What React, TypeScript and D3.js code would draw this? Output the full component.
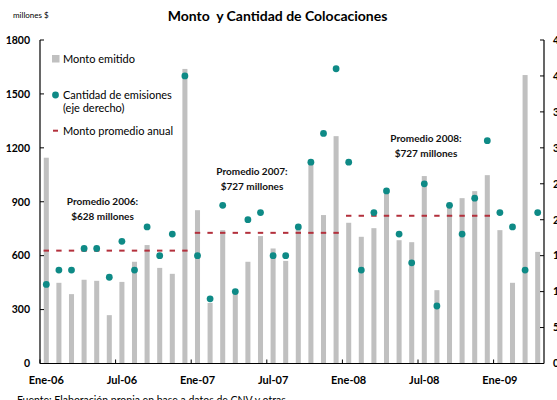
import React from "react";
import * as d3 from "d3";

const montos = [1145, 449, 386, 466, 460, 269, 454, 566, 659, 532, 499, 1639, 853, 337, 742, 390, 566, 709, 640, 571, 745, 1113, 826, 1265, 783, 705, 753, 946, 686, 675, 1043, 408, 880, 920, 959, 1048, 742, 449, 1605, 621];
const cantidades = [11, 13, 13, 16, 16, 12, 17, 13, 19, 15, 18, 40, 15, 9, 22, 10, 20, 21, 15, 15, 19, 28, 32, 41, 28, 13, 21, 24, 18, 14, 25, 8, 22, 18, 23, 31, 21, 19, 13, 21];
const promedios = [
  { start: 0, end: 11, value: 628 },
  { start: 12, end: 23, value: 727 },
  { start: 24, end: 35, value: 822 },
];
const xTickIdx = [0, 6, 12, 18, 24, 30, 36];
const xTickLabels = ["Ene-06", "Jul-06", "Ene-07", "Jul-07", "Ene-08", "Jul-08", "Ene-09"];
const leftTicks = [0, 300, 600, 900, 1200, 1500, 1800];
const rightTicks = [0, 5, 10, 15, 20, 25, 30, 35, 40, 45];
const annotations = [
  { cx: 102.5, y: 205, lines: ["Promedio 2006:", "$628 millones"] },
  { cx: 252, y: 175, lines: ["Promedio 2007:", "$727 millones"] },
  { cx: 426, y: 142, lines: ["Promedio 2008:", "$727 millones"] },
];

const W = 557;
const H = 400;
const left = 40;
const right = 544;
const top = 40;
const bottom = 363.5;
const FONT = "Lato, 'Open Sans', sans-serif";
const BAR = "#c0c0c0";
const TEAL = "#0e8a86";
const RED = "#b3303c";

export default function App() {
  const idx = montos.map((_, i) => i);
  const pad = 0.6;
  const x = d3.scaleBand<number>().domain(idx).range([left, right]).paddingInner(pad).paddingOuter(pad / 2);
  const bw = x.bandwidth();
  const step = x.step();
  const cx = (i: number) => (x(i) as number) + bw / 2;
  const boundary = (i: number) => (x(i) as number) - (step - bw) / 2;
  const yL = d3.scaleLinear().domain([0, 1800]).range([bottom, top]);
  const yR = d3.scaleLinear().domain([0, 45]).range([bottom, top]);

  return (
    <svg width={W} height={H} style={{ position: "absolute", left: 0, top: 0, background: "#fff" }} fontFamily={FONT}>
      <rect x={0} y={0} width={W} height={H} fill="#fff" />
      {/* title */}
      <text x={277.5} y={21} textAnchor="middle" fontSize={14} fontWeight="bold" fill="#000" style={{ whiteSpace: "pre" }}>
        {"Monto  y Cantidad de Colocaciones"}
      </text>
      <text x={13} y={17.5} fontSize={8} fill="#000">millones $</text>

      {/* bars */}
      {montos.map((v, i) => (
        <rect key={"b" + i} x={x(i)} y={yL(v)} width={bw} height={bottom - yL(v)} fill={BAR} />
      ))}

      {/* average lines */}
      {promedios.map((p, k) =>
        idx.filter((i) => i >= p.start && i <= p.end).map((i) => (
          <line key={"p" + k + "-" + i} x1={cx(i) - 2.7} x2={cx(i) + 2.7} y1={yL(p.value)} y2={yL(p.value)} stroke={RED} strokeWidth={2} />
        ))
      )}

      {/* dots */}
      {cantidades.map((c, i) => (
        <circle key={"d" + i} cx={cx(i)} cy={yR(c)} r={3.4} fill={TEAL} />
      ))}

      {/* annotations */}
      {annotations.map((a, k) => (
        <g key={"a" + k}>
          {a.lines.map((l, j) => (
            <text key={j} x={a.cx} y={a.y + j * 15} textAnchor="middle" fontSize={10} fontWeight="bold" fill="#111">{l}</text>
          ))}
        </g>
      ))}

      {/* left axis */}
      <line x1={left} x2={left} y1={top} y2={bottom} stroke="#000" strokeWidth={1.2} />
      {leftTicks.map((t) => (
        <g key={"l" + t}>
          <line x1={left} x2={left + 4} y1={yL(t)} y2={yL(t)} stroke="#000" strokeWidth={1} />
          <text x={30} y={yL(t) + 3.8} textAnchor="end" fontSize={10.5} fontWeight="bold" fill="#000">{t}</text>
        </g>
      ))}

      {/* right axis */}
      <line x1={right} x2={right} y1={top} y2={bottom} stroke="#000" strokeWidth={1.2} />
      {rightTicks.map((t) => (
        <g key={"r" + t}>
          <line x1={right - 4} x2={right} y1={yR(t)} y2={yR(t)} stroke="#000" strokeWidth={1} />
          <text x={553} y={yR(t) + 3.8} textAnchor="start" fontSize={10.5} fontWeight="bold" fill="#000">{t}</text>
        </g>
      ))}

      {/* x axis */}
      <line x1={left} x2={right} y1={bottom} y2={bottom} stroke="#000" strokeWidth={1.2} />
      {xTickIdx.map((i, k) => (
        <g key={"x" + i}>
          <line x1={boundary(i)} x2={boundary(i)} y1={bottom - 4} y2={bottom} stroke="#000" strokeWidth={1} />
          <text x={cx(i)} y={384} textAnchor="middle" fontSize={11} fontWeight="bold" fill="#000">{xTickLabels[k]}</text>
        </g>
      ))}

      {/* legend */}
      <rect x={52} y={55} width={7.5} height={7.5} fill={BAR} />
      <text x={63} y={62.5} fontSize={11} fill="#000">Monto emitido</text>
      <circle cx={55.5} cy={95} r={3.4} fill={TEAL} />
      <text x={63} y={99} fontSize={11} fill="#000">Cantidad de emisiones</text>
      <text x={63} y={111.5} fontSize={11} fill="#000">(eje derecho)</text>
      <line x1={53} x2={58} y1={130.7} y2={130.7} stroke={RED} strokeWidth={2} />
      <text x={63} y={134.5} fontSize={11} fill="#000">Monto promedio anual</text>

      {/* source */}
      <text x={17} y={404} fontSize={10.5} fill="#000">Fuente: Elaboración propia en base a datos de CNV y otras.</text>
    </svg>
  );
}
